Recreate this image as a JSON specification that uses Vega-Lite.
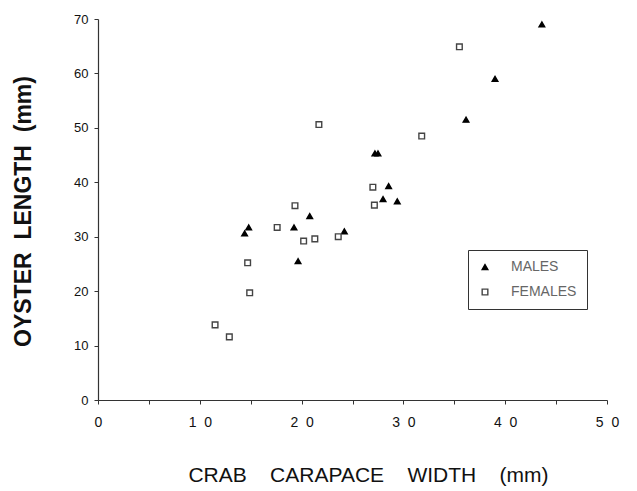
{
  "$schema": "https://vega.github.io/schema/vega-lite/v6.json",
  "width": 509,
  "height": 381,
  "autosize": {"type": "none"},
  "padding": {"left": 98, "top": 19, "right": 30, "bottom": 91},
  "background": "white",
  "config": {
    "view": {"stroke": null},
    "font": "Liberation Sans"
  },
  "data": {
    "values": [
      {"width": 43.6, "length": 69.0, "sex": "MALES"},
      {"width": 39.0, "length": 59.0, "sex": "MALES"},
      {"width": 36.15, "length": 51.5, "sex": "MALES"},
      {"width": 27.2, "length": 45.3, "sex": "MALES"},
      {"width": 27.5, "length": 45.3, "sex": "MALES"},
      {"width": 28.55, "length": 39.3, "sex": "MALES"},
      {"width": 28.0, "length": 36.9, "sex": "MALES"},
      {"width": 29.4, "length": 36.5, "sex": "MALES"},
      {"width": 14.4, "length": 30.6, "sex": "MALES"},
      {"width": 14.8, "length": 31.7, "sex": "MALES"},
      {"width": 19.25, "length": 31.7, "sex": "MALES"},
      {"width": 20.8, "length": 33.8, "sex": "MALES"},
      {"width": 19.65, "length": 25.5, "sex": "MALES"},
      {"width": 24.2, "length": 31.0, "sex": "MALES"},
      {"width": 35.5, "length": 64.9, "sex": "FEMALES"},
      {"width": 21.7, "length": 50.6, "sex": "FEMALES"},
      {"width": 31.8, "length": 48.5, "sex": "FEMALES"},
      {"width": 27.0, "length": 39.1, "sex": "FEMALES"},
      {"width": 27.15, "length": 35.8, "sex": "FEMALES"},
      {"width": 19.35, "length": 35.7, "sex": "FEMALES"},
      {"width": 17.6, "length": 31.7, "sex": "FEMALES"},
      {"width": 20.2, "length": 29.2, "sex": "FEMALES"},
      {"width": 21.3, "length": 29.6, "sex": "FEMALES"},
      {"width": 23.6, "length": 30.0, "sex": "FEMALES"},
      {"width": 14.7, "length": 25.2, "sex": "FEMALES"},
      {"width": 14.9, "length": 19.7, "sex": "FEMALES"},
      {"width": 11.5, "length": 13.8, "sex": "FEMALES"},
      {"width": 12.9, "length": 11.6, "sex": "FEMALES"}
    ]
  },
  "mark": {"type": "point", "size": 32, "strokeWidth": 1.4, "opacity": 1},
  "encoding": {
    "x": {
      "field": "width",
      "type": "quantitative",
      "scale": {"domain": [0, 50], "nice": false, "zero": false},
      "axis": {
        "title": "CRAB\u00a0\u00a0\u00a0\u00a0CARAPACE\u00a0\u00a0\u00a0\u00a0WIDTH\u00a0\u00a0\u00a0\u00a0(mm)",
        "titleFont": "Liberation Sans",
        "titleFontSize": 21,
        "titleFontWeight": "normal",
        "titleColor": "#111",
        "titleX": 270,
        "titleY": 75,
        "titleAlign": "center",
        "titleBaseline": "middle",
        "values": [0, 5, 10, 15, 20, 25, 30, 35, 40, 45, 50],
        "labelExpr": "datum.value % 10 != 0 ? '' : (datum.value == 0 ? '0' : (datum.value / 10) + '\u00a0\u00a00')",
        "labelFont": "Liberation Sans",
        "labelFontSize": 14,
        "labelColor": "#111",
        "labelPadding": 11,
        "labelFlush": false,
        "labelOverlap": false,
        "tickSize": 4,
        "tickColor": "#333",
        "domainColor": "#333",
        "domainWidth": 1.2,
        "grid": false
      }
    },
    "y": {
      "field": "length",
      "type": "quantitative",
      "scale": {"domain": [0, 70], "nice": false, "zero": false},
      "axis": {
        "title": "OYSTER\u00a0\u00a0LENGTH\u00a0\u00a0(mm)",
        "titleFont": "Liberation Sans",
        "titleFontSize": 23,
        "titleFontWeight": "bold",
        "titleColor": "#111",
        "titleAngle": 270,
        "titleX": -75,
        "titleY": 192,
        "titleAlign": "center",
        "titleBaseline": "middle",
        "values": [0, 10, 20, 30, 40, 50, 60, 70],
        "labelFont": "Liberation Sans",
        "labelFontSize": 13,
        "labelColor": "#111",
        "labelPadding": 6,
        "tickSize": 4,
        "tickColor": "#333",
        "domainColor": "#333",
        "domainWidth": 1.2,
        "grid": false
      }
    },
    "shape": {
      "field": "sex",
      "type": "nominal",
      "scale": {"domain": ["MALES", "FEMALES"], "range": ["triangle-up", "square"]},
      "legend": {
        "title": null,
        "orient": "none",
        "legendX": 370,
        "legendY": 231,
        "strokeColor": "#333",
        "fillColor": "white",
        "padding": 10,
        "rowPadding": 11,
        "labelFont": "Liberation Sans",
        "labelFontSize": 14,
        "labelColor": "#666",
        "labelOffset": 19,
        "symbolSize": 32,
        "symbolStrokeWidth": 1.4
      }
    },
    "fill": {
      "field": "sex",
      "type": "nominal",
      "scale": {"domain": ["MALES", "FEMALES"], "range": ["black", "white"]},
      "legend": null
    },
    "stroke": {
      "field": "sex",
      "type": "nominal",
      "scale": {"domain": ["MALES", "FEMALES"], "range": ["black", "#444"]},
      "legend": null
    }
  }
}
